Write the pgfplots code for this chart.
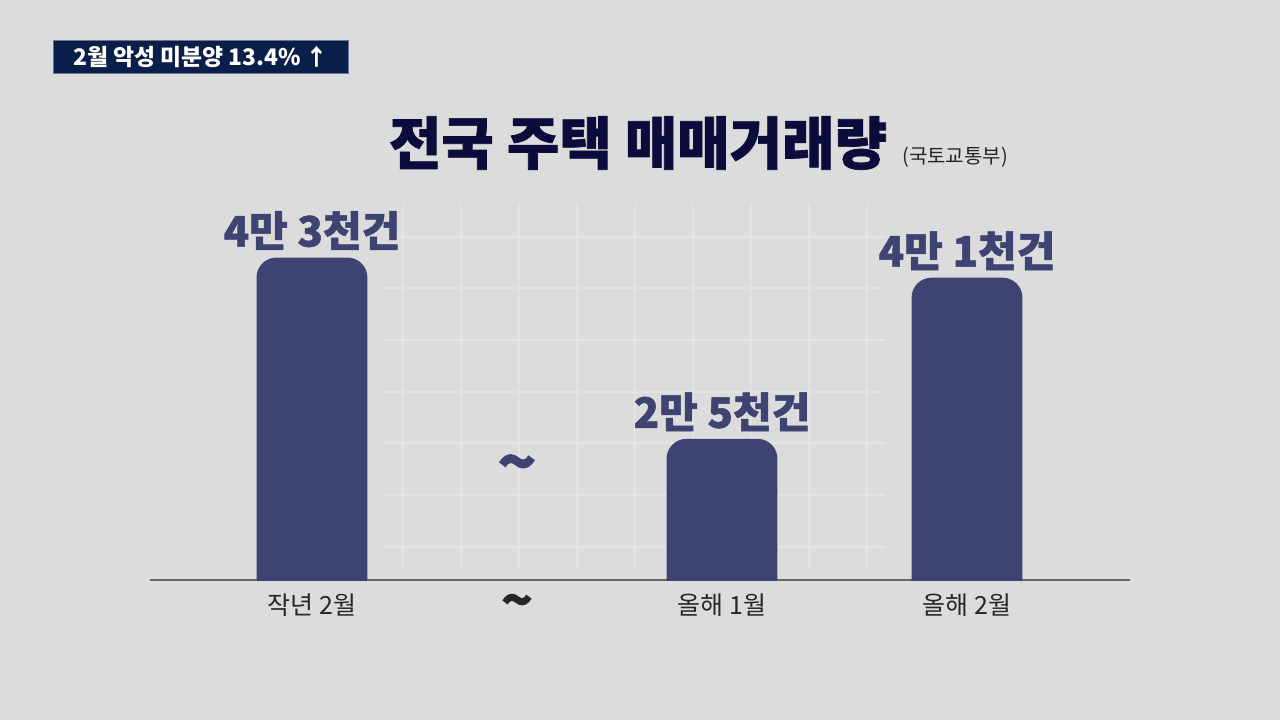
\documentclass[border=0pt]{standalone}
\usepackage{fontspec}
\setmainfont{Noto Sans CJK KR}[BoldFeatures={FakeBold=1.2}]
\newfontfamily\normalkr{Noto Sans CJK KR}
\usepackage{pgfplots}
\pgfplotsset{compat=1.18}
\definecolor{bg}{HTML}{DCDCDC}
\definecolor{barc}{HTML}{3E4372}
\definecolor{titc}{HTML}{0C0C3C}
\definecolor{boxc}{HTML}{0A1E4A}
\definecolor{gridc}{HTML}{E4E4E4}
\definecolor{tickc}{HTML}{262626}
\begin{document}
\begin{tikzpicture}[x=0.5pt,y=0.5pt]
\useasboundingbox (0,0) rectangle (1280,720);
% background (pixel coordinates, y up)
\fill[bg] (0,0) rectangle (1280,720);
% faint decorative grid
\foreach \yy in {237,288,340,392,443,495,547} {\draw[gridc, line width=0.6pt] (385,720-\yy) -- (885,720-\yy);}
\foreach \xx in {403,461,519,577,635,693,751,809,867} {\draw[gridc, line width=0.6pt] (\xx,720-205) -- (\xx,720-570);}
% header box
\fill[boxc] (53,720-40) rectangle (348,720-73);
\draw[boxc!60!white, line width=0.4pt] (53,720-40) rectangle (348,720-73);
\node[text=white, font=\normalkr\fontsize{11.4}{13}\selectfont\bfseries, inner sep=0] at (201,720-56.5) {2월 악성 미분양 13.4\% ↑};
% main title
\node[text=titc, font=\fontsize{28.5}{32}\selectfont\bfseries, inner sep=0] at (638,720-143) {전국 주택 매매거래량};
\node[text=tickc, font=\fontsize{10}{11}\selectfont, inner sep=0] at (955,720-157) {(국토교통부)};
\begin{axis}[
  at={(75pt,70pt)}, anchor=south west,
  scale only axis, width=490pt, height=200pt,
  xmin=-0.790, xmax=3.990, ymin=10.98, ymax=50.7,
  axis x line*=bottom, axis y line=none,
  x axis line style={-, draw=black!60, line width=0.9pt},
  xtick={0,1,2,3.195},
  xticklabels={작년 2월, {\fontsize{26}{26}\selectfont\bfseries\textasciitilde}, 올해 1월, 올해 2월},
  xticklabel style={font=\fontsize{12.5}{14}\selectfont, text=tickc, yshift=-3.5pt},
  major tick length=0pt,
  ytick=\empty,
  point meta=explicit symbolic,
]
% bars: rectangles rising from below the clipped baseline, rounded tops
\addplot[fill=barc, draw=none, rounded corners=10pt] coordinates {(-0.2705,0) (-0.2705,43) (0.2705,43) (0.2705,0)} -- cycle;
\addplot[fill=barc, draw=none, rounded corners=10pt] coordinates {(1.7295,0) (1.7295,25) (2.2705,25) (2.2705,0)} -- cycle;
\addplot[fill=barc, draw=none, rounded corners=10pt] coordinates {(2.9245,0) (2.9245,41) (3.4655,41) (3.4655,0)} -- cycle;
% value labels
\addplot[draw=none, mark=none, nodes near coords,
  every node near coord/.append style={anchor=center, yshift=13.5pt, text=barc, font=\fontsize{21}{23}\selectfont\bfseries}]
  coordinates {
  (0,43) [4만 3천건]
  (2,25) [2만 5천건]
  (3.195,41) [4만 1천건]
};
\node[text=barc, font=\fontsize{32}{32}\selectfont\bfseries, inner sep=0] at (axis cs:1,21.9) {\textasciitilde};
\end{axis}
\end{tikzpicture}
\end{document}
